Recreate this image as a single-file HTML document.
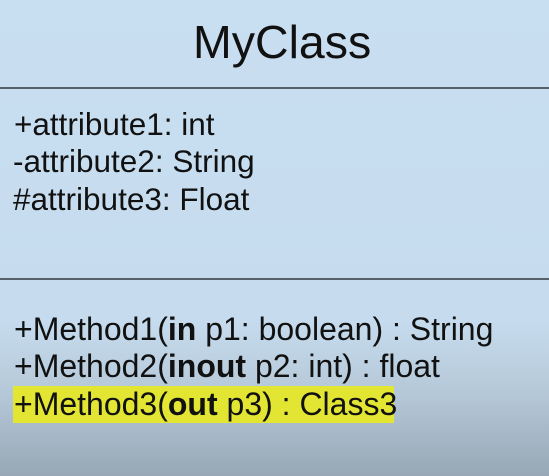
<!DOCTYPE html>
<html><head><style>
html,body{margin:0;padding:0}
body{width:549px;height:476px;overflow:hidden;position:relative;font-family:"Liberation Sans",Arial,sans-serif;color:#111;
background:linear-gradient(to bottom,#c8def1 0px,#c6dcee 320px,#b3c6d6 400px,#97a7b5 476px);}
.t{position:absolute;white-space:nowrap;line-height:1}
.line{position:absolute;left:0;width:549px;height:2px;background:#55606a}
.hl{position:absolute;left:13px;top:386px;width:381px;height:37px;background:#e3e533}
</style></head><body>
<div class="t" style="left:193px;top:19px;font-size:46.5px">MyClass</div>
<div class="line" style="top:87px"></div>
<div class="t" style="left:14px;top:109px;font-size:31.5px">+attribute1: int</div>
<div class="t" style="left:13px;top:146px;font-size:31.5px">-attribute2: String</div>
<div class="t" style="left:13px;top:184px;font-size:31.5px">#attribute3: Float</div>
<div class="line" style="top:278px"></div>
<div class="hl"></div>
<div class="t" style="left:14px;top:313px;font-size:32px">+Method1(<b>in</b> p1: boolean) : String</div>
<div class="t" style="left:14px;top:350px;font-size:32px">+Method2(<b>inout</b> p2: int) : float</div>
<div class="t" style="left:14px;top:388px;font-size:32px">+Method3(<b>out</b> p3) : Class3</div>
</body></html>
